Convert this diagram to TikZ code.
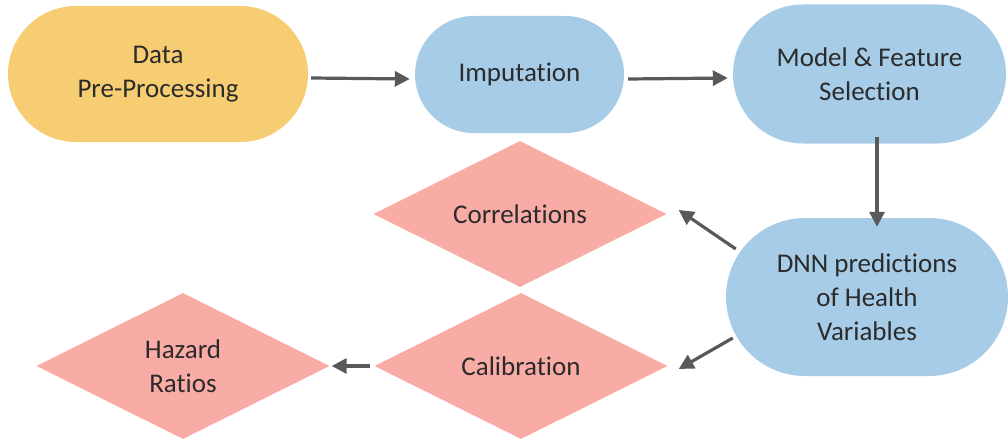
\documentclass[tikz,border=0pt]{standalone}
\usepackage{fontspec}
\setmainfont{Carlito}[Ligatures=NoCommon]
\usetikzlibrary{shapes.geometric,arrows.meta}
\definecolor{yel}{HTML}{F6CD72}
\definecolor{blu}{HTML}{A7CCE8}
\definecolor{pnk}{HTML}{F9ABA6}
\definecolor{arrc}{HTML}{595959}
\definecolor{txt}{HTML}{2B2B2B}
\tikzset{
  lbl/.style={text=txt, align=center, inner sep=0pt, font=\fontsize{27}{34}\selectfont},
  stadium/.style={lbl, rectangle, fill=blu},
  dmd/.style={lbl, diamond, aspect=2, fill=pnk, minimum width=293pt, minimum height=146pt},
  arr/.style={draw=arrc, line width=3.2pt, -{Triangle[length=15pt,width=15pt]}}
}
\begin{document}
\begin{tikzpicture}[x=1pt,y=-1pt]
\useasboundingbox (0,0) rectangle (1008,441);
\node[stadium, fill=yel, minimum width=300pt, minimum height=136pt, rounded corners=68pt] (pre) at (158,74) {Data\\Pre-Processing};
\node[stadium, minimum width=209pt, minimum height=117pt, rounded corners=58.5pt] (imp) at (519.5,74.5) {Imputation};
\node[stadium, minimum width=273pt, minimum height=139pt, rounded corners=69.5pt] (mod) at (869.5,74) {Model \& Feature\\Selection};
\node[stadium, minimum width=282pt, minimum height=158pt, rounded corners=79pt] (dnn) at (867,297) {DNN predictions\\of Health\\Variables};
\node[dmd] (cor) at (520,214) {Correlations};
\node[dmd] (cal) at (521,366) {Calibration};
\node[dmd] (haz) at (183,366) {Hazard\\Ratios};
\draw[arr] ([xshift=3pt,yshift=-4pt]pre.east) -- ([xshift=-5pt,yshift=-4.5pt]imp.west);
\draw[arr] ([xshift=4pt,yshift=-4.5pt]imp.east) -- ([xshift=-5pt,yshift=-4pt]mod.west);
\draw[arr] ([xshift=7.5pt,yshift=7pt]mod.south) -- ([xshift=10pt,yshift=-9pt]dnn.north);
\draw[arr] ([shift={(10pt,48pt)}]dnn.west) -- ([shift={(12pt,4pt)}]cor.east);
\draw[arr] ([shift={(7pt,-41pt)}]dnn.west) -- ([shift={(11pt,-3pt)}]cal.east);
\draw[arr] ([xshift=-4pt]cal.west) -- ([xshift=2pt]haz.east);
\end{tikzpicture}
\end{document}
